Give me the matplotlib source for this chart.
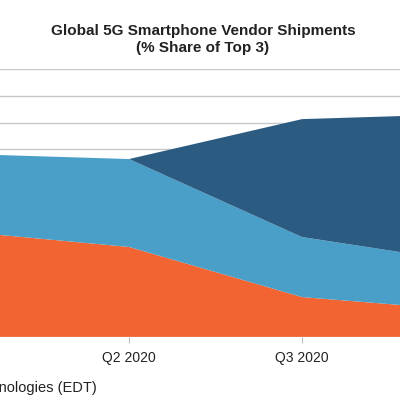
import matplotlib
matplotlib.use("Agg")
import matplotlib.pyplot as plt
import numpy as np

plt.rcParams['font.family'] = ['Liberation Sans', 'DejaVu Sans']

quarters = ["Q1 2020", "Q2 2020", "Q3 2020", "Q4 2020"]
vendor_a = [39.6, 33.6, 14.9, 9.7]   # orange
vendor_b = [28.8, 32.8, 22.4, 17.7]  # light blue
vendor_c = [0.0, 0.0, 44.0, 55.9]    # dark blue
colors = ["#F26431", "#499FC7", "#2C5B82"]

fig = plt.figure(figsize=(4, 4), dpi=100)
ax = fig.add_axes([-44/400, 63/400, 519/400, 268/400])
x = np.arange(len(quarters))
ax.set_xlim(0, len(quarters) - 1)
ax.set_ylim(0, 100)
for yv in range(10, 101, 10):
    ax.axhline(yv, color="#C8C8C8", lw=1.0, zorder=0)
ax.stackplot(x, vendor_a, vendor_b, vendor_c, colors=colors, zorder=2, lw=0)
for s in ax.spines.values():
    s.set_visible(False)
ax.axhline(0, color="#BFBFBF", lw=1.0, zorder=3)
ax.set_yticks([])
ax.set_xticks(x)
ax.set_xticklabels(quarters, fontsize=10, color="#222222")
ax.tick_params(axis='x', length=4, color="#BFBFBF", pad=6)

fig.text(203/400, 1 - 31/400, "Global 5G Smartphone Vendor Shipments",
         ha="center", va="center", fontsize=11, fontweight="bold", color="#222222")
fig.text(203/400, 1 - 48/400, "(% Share of Top 3)",
         ha="center", va="center", fontsize=11, fontweight="bold", color="#222222")
fig.text(97/400, 1 - 388/400, "Source: Strategy Analytics, Inc. Emerging Device Technologies (EDT)",
         ha="right", va="center", fontsize=10.5, color="#222222")

fig.savefig("out.png", dpi=100)
